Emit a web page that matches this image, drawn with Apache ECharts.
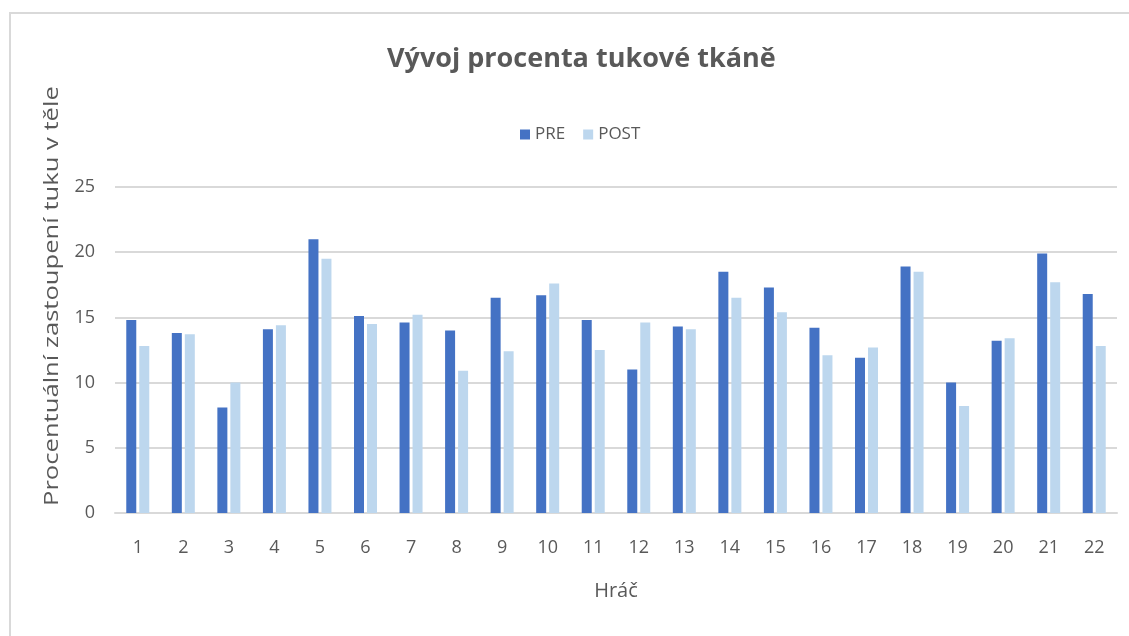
<!DOCTYPE html>
<html>
<head>
<meta charset="utf-8">
<script src="https://cdn.jsdelivr.net/npm/echarts@6/dist/echarts.min.js"></script>
<style>
  html, body { margin: 0; padding: 0; background: #fff; }
  #chart { width: 1129px; height: 636px; }
  .frame {
    position: absolute; left: 9px; top: 12px; right: -5px; bottom: -5px;
    border-left: 2px solid #d9d9d9; border-top: 2px solid #d9d9d9;
    pointer-events: none;
  }
</style>
</head>
<body>
<div id="chart"></div>
<div class="frame"></div>
<script>
const players = ['1', '2', '3', '4', '5', '6', '7', '8', '9', '10', '11',
  '12', '13', '14', '15', '16', '17', '18', '19', '20', '21', '22']
const pre = [14.8, 13.8, 8.1, 14.1, 21.0, 15.1, 14.6, 14.0, 16.5, 16.7, 14.8,
  11.0, 14.3, 18.5, 17.3, 14.2, 11.9, 18.9, 10.0, 13.2, 19.9, 16.8]
const post = [12.8, 13.7, 10.0, 14.4, 19.5, 14.5, 15.2, 10.9, 12.4, 17.6, 12.5,
  14.6, 14.1, 16.5, 15.4, 12.1, 12.7, 18.5, 8.2, 13.4, 17.7, 12.8]

const font = "'Open Sans', sans-serif"
const textColor = '#595959'

const chart = echarts.init(document.getElementById('chart'))

chart.setOption({
  animation: false,
  textStyle: { fontFamily: font },
  title: {
    text: 'Vývoj procenta tukové tkáně',
    left: 382,
    top: 41,
    textStyle: { fontFamily: font, fontSize: 27, fontWeight: 'bold', color: textColor },
  },
  legend: {
    data: ['PRE', 'POST'],
    top: 121,
    left: 515,
    itemWidth: 10,
    itemHeight: 10,
    itemGap: 18,
    icon: 'rect',
    textStyle: { fontFamily: font, fontSize: 17, color: textColor },
  },
  grid: { left: 115, right: 12, top: 187, bottom: 123 },
  xAxis: {
    type: 'category',
    data: players,
    name: 'Hráč',
    nameLocation: 'middle',
    nameGap: 68,
    nameTextStyle: { fontFamily: font, fontSize: 20, color: textColor },
    axisLine: { lineStyle: { color: '#d9d9d9', width: 2 } },
    axisTick: { show: false },
    axisLabel: { fontFamily: font, fontSize: 18, color: textColor, margin: 26 },
  },
  yAxis: {
    type: 'value',
    min: 0,
    max: 25,
    interval: 5,
    axisLine: { show: false },
    axisTick: { show: false },
    axisLabel: { fontFamily: font, fontSize: 18, color: textColor, margin: 20 },
    splitLine: { lineStyle: { color: '#d9d9d9', width: 2 } },
  },
  graphic: [{
    type: 'text',
    x: 42,
    y: 506,
    rotation: Math.PI / 2,
    scaleX: 1.28,
    style: {
      text: 'Procentuální zastoupení tuku v těle',
      fontFamily: font,
      fontSize: 20,
      fill: textColor,
      align: 'left',
      verticalAlign: 'top',
    },
  }],
  series: [
    {
      name: 'PRE',
      type: 'bar',
      data: pre,
      barWidth: 10,
      barGap: '30%',
      itemStyle: { color: '#4472C4' },
    },
    {
      name: 'POST',
      type: 'bar',
      data: post,
      barWidth: 10,
      itemStyle: { color: '#BDD7EE' },
    },
  ],
})
</script>
</body>
</html>
